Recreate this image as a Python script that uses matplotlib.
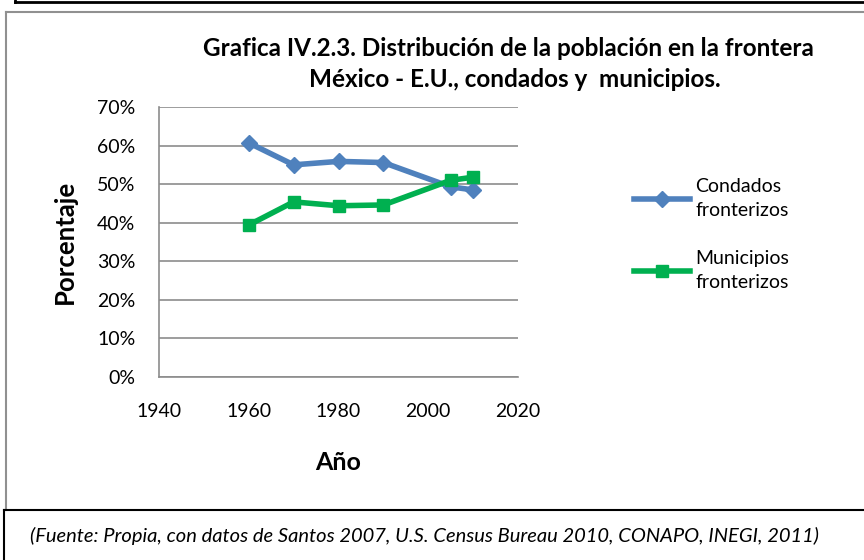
import matplotlib
matplotlib.use("Agg")
import matplotlib.pyplot as plt
from matplotlib.lines import Line2D
from matplotlib.ticker import FuncFormatter

plt.rcParams['font.family'] = ['Lato', 'DejaVu Sans']

# datos
anios = [1960, 1970, 1980, 1990, 2005, 2010]
condados = [60.7, 55.0, 55.9, 55.6, 49.3, 48.5]
municipios = [39.4, 45.4, 44.4, 44.6, 51.0, 51.8]
etiquetas = ["Condados\nfronterizos", "Municipios\nfronterizos"]
azul = "#4f81bd"
verde = "#00b050"

W, H = 864, 560
fig = plt.figure(figsize=(W / 100, H / 100), dpi=100)

def px(x, y):
    return x / W, 1 - y / H

# marcos
def linea(x0, y0, x1, y1, color, lw):
    a = px(x0, y0)
    b = px(x1, y1)
    fig.add_artist(Line2D([a[0], b[0]], [a[1], b[1]], color=color, lw=lw,
                          transform=fig.transFigure))

linea(15, 2, 870, 2, "black", 2)
linea(15, -5, 15, 2, "black", 2)
linea(6, 12, 870, 12, "#909090", 1.5)
linea(6, 12, 6, 510, "#909090", 1.5)
linea(4, 510, 870, 510, "black", 1.5)
linea(4, 510, 4, 570, "black", 1.5)

x0, y0 = px(159, 377)
x1, y1 = px(518, 107)
ax = fig.add_axes([x0, y0, x1 - x0, y1 - y0])

ax.plot(anios, condados, color=azul, lw=4, marker="D", ms=8, label=etiquetas[0])
ax.plot(anios, municipios, color=verde, lw=4, marker="s", ms=9, label=etiquetas[1])

ax.set_xlim(1940, 2020)
ax.set_ylim(0, 70)
ax.set_xticks([1940, 1960, 1980, 2000, 2020])
ax.set_yticks(range(0, 71, 10))
ax.yaxis.set_major_formatter(FuncFormatter(lambda v, p: "%d%%" % v))
ax.grid(axis="y", color="#8c8c8c", lw=1.2)
ax.set_axisbelow(True)
for s in ["top", "right"]:
    ax.spines[s].set_visible(False)
for s in ["left", "bottom"]:
    ax.spines[s].set_color("#8c8c8c")
    ax.spines[s].set_linewidth(1.2)
ax.tick_params(axis="both", length=0, labelsize=14)
ax.tick_params(axis="y", pad=17)
ax.tick_params(axis="x", pad=19)

# titulo y ejes
tx, ty = px(508, 48)
fig.text(tx, ty, "Grafica IV.2.3. Distribución de la población en la frontera",
         ha="center", va="center", fontsize=17.5, fontweight="bold")
tx, ty = px(515, 80)
fig.text(tx, ty, "México - E.U., condados y  municipios.",
         ha="center", va="center", fontsize=17.5, fontweight="bold")
tx, ty = px(65, 242)
fig.text(tx, ty, "Porcentaje", rotation=90, ha="center", va="center",
         fontsize=18.5, fontweight="bold")
tx, ty = px(338, 462)
fig.text(tx, ty, "Año", ha="center", va="center", fontsize=18, fontweight="bold")

# leyenda
lx, ly = px(634, 178)
leg = ax.legend(loc="upper left", bbox_to_anchor=(lx, ly), bbox_transform=fig.transFigure,
                frameon=False, fontsize=14, handlelength=2.9, labelspacing=1.6,
                handletextpad=0.25, borderpad=0, borderaxespad=0)
for t in leg.get_texts():
    t.set_linespacing(1.5)

tx, ty = px(30, 536)
fig.text(tx, ty, "(Fuente: Propia, con datos de Santos 2007, U.S. Census Bureau 2010, CONAPO, INEGI, 2011)",
         ha="left", va="center", fontsize=14.5, style="italic")

fig.savefig("out.png", dpi=100)
